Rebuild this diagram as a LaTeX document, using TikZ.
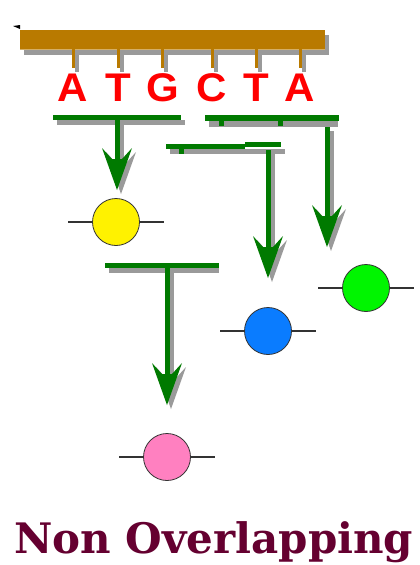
\documentclass[tikz,border=0pt]{standalone}
\usepackage{fontspec}
\newfontfamily\letterfont{Liberation Sans}
\newfontfamily\titlefont{DejaVu Serif}
\definecolor{barbrown}{HTML}{B97A00}
\definecolor{dgreen}{HTML}{007A00}
\definecolor{shadowgray}{HTML}{9A9A9A}
\definecolor{circblue}{HTML}{0A7CFF}
\definecolor{circgreen}{HTML}{00F500}
\definecolor{circpink}{HTML}{FF80C0}
\definecolor{titlemaroon}{HTML}{650030}
\newcommand\arrowshape[4]{%
  \fill[#4] ({#1-2.5},{#2}) rectangle ({#1+2.5},{#3-30});
  \fill[#4] ({#1-15},{#3-42}) -- ({#1-5},{#3-31}) -- ({#1+5},{#3-31}) -- ({#1+15},{#3-42}) -- ({#1},{#3}) -- cycle;}
\newcommand\greenarrow[3]{%
  \begin{scope}[shift={(4,4)}]\arrowshape{#1}{#2}{#3}{shadowgray}\end{scope}
  \arrowshape{#1}{#2}{#3}{dgreen}}
\begin{document}
\begin{tikzpicture}[x=1pt,y=-1pt,
  letter/.style={anchor=base, inner sep=0, text=red, font=\letterfont\bfseries\fontsize{40}{40}\selectfont, xscale=1.05},
  circ/.style={circle, draw=black!80, line width=0.8pt, minimum size=47pt, inner sep=0},
  lead/.style={draw=black!80, line width=1.2pt},
  gbar/.style={fill=dgreen},
  sbar/.style={fill=shadowgray}]
\useasboundingbox (0,0) rectangle (420,565);
\fill[white] (0,0) rectangle (420,565);
% small mark
\fill[black] (13,26) -- (20,25) -- (20,29) -- cycle;
% brown bar with stems
\fill[shadowgray] (24,35) rectangle (329,55);
\fill[barbrown] (20,30) rectangle (325,49);
\draw[barbrown!60!white, line width=0.8pt] (20,49) -- (325,49);
\foreach \x in {73,118,162,212,256,300}{
  \fill[shadowgray] (\x+2,52) rectangle (\x+6,72);
  \fill[barbrown] (\x-1.5,49) rectangle (\x+1.5,68);
}
% letters
\node[letter] (l1) at (73,101) {A};
\node[letter] (l2) at (118,101) {T};
\node[letter] (l3) at (163,101) {G};
\node[letter] (l4) at (212,101) {C};
\node[letter] (l5) at (256,101) {T};
\node[letter] (l6) at (300,101) {A};
% green bars (codons)
\fill[sbar] (57,120) rectangle (185,125);
\fill[gbar] (53,115) rectangle (181,120);
\fill[sbar] (209,121) rectangle (338,127);
\fill[gbar] (205,115) rectangle (339,121);
\fill[gbar] (219,121) rectangle (224,126);
\fill[gbar] (278,121) rectangle (283,126);
\fill[sbar] (170,149) rectangle (285,154);
\fill[gbar] (166,144) rectangle (245,149);
\fill[gbar] (245,142) rectangle (281,147);
\fill[gbar] (179,149) rectangle (184,154);
\fill[sbar] (109,268) rectangle (219,273);
\fill[gbar] (105,263) rectangle (219,268);
% circles
\node[circ, fill=yellow] (c1) at (116,222) {};
\node[circ, fill=circblue] (c2) at (268,331) {};
\node[circ, fill=circgreen] (c3) at (366,288) {};
\node[circ, fill=circpink] (c4) at (167,457) {};
\foreach \c in {c1,c2,c3,c4}{
  \draw[lead] (\c.west) -- ++(-24,0);
  \draw[lead] (\c.east) -- ++(24,0);
}
% arrows
\greenarrow{117}{120}{190}
\greenarrow{268}{150}{278}
\greenarrow{327}{127}{247}
\greenarrow{167}{268}{405}
% title
\node[anchor=base west, inner sep=0, text=titlemaroon, font=\titlefont\bfseries\fontsize{42}{42}\selectfont] (title) at (14,553) {Non Overlapping};
\end{tikzpicture}
\end{document}
